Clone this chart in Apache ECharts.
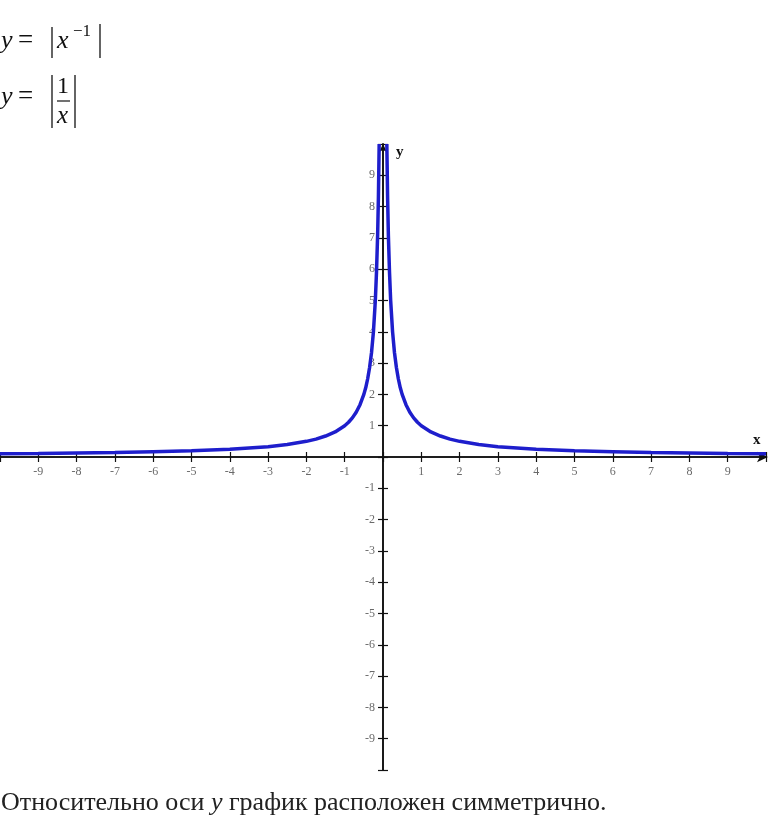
<!DOCTYPE html>
<html>
<head>
<meta charset="utf-8">
<script src="https://cdn.jsdelivr.net/npm/echarts@6/dist/echarts.min.js"></script>
<style>html,body{margin:0;padding:0;background:#fff}#c{width:768px;height:820px}</style>
</head>
<body>
<div id="c"></div>
<script>
// Values: y = |1/x|
const leftX  = [-10, -9, -8, -7, -6, -5, -4, -3.5, -3, -2.5, -2, -1.75, -1.5, -1.25, -1, -0.9, -0.8, -0.7, -0.6, -0.5, -0.45, -0.4, -0.35, -0.3, -0.25, -0.2, -0.17, -0.14, -0.12, -0.1];
const leftY  = [0.1, 0.11, 0.125, 0.14, 0.17, 0.2, 0.25, 0.29, 0.33, 0.4, 0.5, 0.57, 0.67, 0.8, 1, 1.11, 1.25, 1.43, 1.67, 2, 2.22, 2.5, 2.86, 3.33, 4, 5, 5.9, 7.1, 8.3, 10];
const rightX = [0.1, 0.12, 0.14, 0.17, 0.2, 0.25, 0.3, 0.35, 0.4, 0.45, 0.5, 0.6, 0.7, 0.8, 0.9, 1, 1.25, 1.5, 1.75, 2, 2.5, 3, 3.5, 4, 5, 6, 7, 8, 9, 10];
const rightY = [10, 8.3, 7.1, 5.9, 5, 4, 3.33, 2.86, 2.5, 2.22, 2, 1.67, 1.43, 1.25, 1.11, 1, 0.8, 0.67, 0.57, 0.5, 0.4, 0.33, 0.29, 0.25, 0.2, 0.17, 0.14, 0.125, 0.11, 0.1];
const xTickValues = [-9, -8, -7, -6, -5, -4, -3, -2, -1, 1, 2, 3, 4, 5, 6, 7, 8, 9];
const yTickValues = [-9, -8, -7, -6, -5, -4, -3, -2, -1, 1, 2, 3, 4, 5, 6, 7, 8, 9];
const footerText = 'Относительно оси y график расположен симметрично.';

const chart = echarts.init(document.getElementById('c'), null, {renderer: 'canvas'});
const serif = '"Liberation Serif", "DejaVu Serif", serif';
const lineColor = '#1e1ecc';
const pair = (xs, ys) => xs.map((x, i) => [x, ys[i]]);

const axisLineStyle = {color: '#111', width: 1.6};
function mkAxis(position, extra) {
  return Object.assign({
    type: 'value', min: -10, max: 10, interval: 1, position: position,
    splitLine: {show: false},
    axisLabel: {show: false},
    axisLine: {show: true, onZero: true, onZeroAxisIndex: 0, lineStyle: axisLineStyle},
    axisTick: {show: true, length: 5, lineStyle: {color: '#111', width: 1.2}}
  }, extra || {});
}
const labelStyle = {fontFamily: serif, fontSize: 12, color: '#444'};

chart.setOption({
  animation: false,
  backgroundColor: '#fff',
  grid: {left: 0, top: 144, width: 766, height: 626, containLabel: false, outerBoundsMode: 'none'},
  xAxis: [
    mkAxis('bottom', {axisLine: {show: true, onZero: true, onZeroAxisIndex: 0, lineStyle: axisLineStyle, symbol: ['none', 'arrow'], symbolSize: [8, 11], symbolOffset: [0, 2]}}),
    mkAxis('top')
  ],
  yAxis: [
    mkAxis('left', {axisLine: {show: true, onZero: true, onZeroAxisIndex: 0, lineStyle: axisLineStyle, symbol: ['none', 'arrow'], symbolSize: [6, 8]}}),
    mkAxis('right')
  ],
  series: [
    {type: 'line', data: pair(leftX, leftY), showSymbol: false, symbol: 'none', lineStyle: {color: lineColor, width: 3.5}, z: 3},
    {type: 'line', data: pair(rightX, rightY), showSymbol: false, symbol: 'none', lineStyle: {color: lineColor, width: 3.5}, z: 3},
    {type: 'scatter', data: xTickValues.map(v => [v, 0]), symbolSize: 0, silent: true,
      label: Object.assign({show: true, position: 'bottom', distance: 9, formatter: p => String(p.value[0])}, labelStyle)},
    {type: 'scatter', data: yTickValues.map(v => [0, v]), symbolSize: 0, silent: true,
      label: Object.assign({show: true, position: 'left', distance: 8, formatter: p => String(p.value[1])}, labelStyle)}
  ],
  graphic: [
    // line 1: y = |x^-1|
    {type: 'text', left: 1, top: 28, style: {text: 'y', font: 'italic 26px ' + serif, fill: '#111'}},
    {type: 'text', left: 18, top: 27, style: {text: '=', font: '27px ' + serif, fill: '#111'}},
    {type: 'line', shape: {x1: 52, y1: 27, x2: 52, y2: 58}, style: {stroke: '#111', lineWidth: 1.3}},
    {type: 'text', left: 57, top: 28, style: {text: 'x', font: 'italic 26px ' + serif, fill: '#111'}},
    {type: 'text', left: 73, top: 23, style: {text: '−1', font: '17px ' + serif, fill: '#111'}},
    {type: 'line', shape: {x1: 100, y1: 24, x2: 100, y2: 58}, style: {stroke: '#111', lineWidth: 1.3}},
    // line 2: y = |1/x|
    {type: 'text', left: 1, top: 84, style: {text: 'y', font: 'italic 26px ' + serif, fill: '#111'}},
    {type: 'text', left: 18, top: 83, style: {text: '=', font: '27px ' + serif, fill: '#111'}},
    {type: 'line', shape: {x1: 52, y1: 75, x2: 52, y2: 128}, style: {stroke: '#111', lineWidth: 1.3}},
    {type: 'text', left: 57, top: 75, style: {text: '1', font: '24px ' + serif, fill: '#111'}},
    {type: 'line', shape: {x1: 57, y1: 101, x2: 70, y2: 101}, style: {stroke: '#111', lineWidth: 1.2}},
    {type: 'text', left: 57, top: 104, style: {text: 'x', font: 'italic 25px ' + serif, fill: '#111'}},
    {type: 'line', shape: {x1: 75, y1: 75, x2: 75, y2: 128}, style: {stroke: '#111', lineWidth: 1.3}},
    // axis names
    {type: 'text', left: 753, top: 433, style: {text: 'x', font: 'bold 15px ' + serif, fill: '#111'}},
    {type: 'text', left: 396, top: 145, style: {text: 'y', font: 'bold 15px ' + serif, fill: '#111'}},
    // footer
    {type: 'text', left: 1, top: 790, style: {
      rich: {n: {font: '26px ' + serif, fill: '#222'}, i: {font: 'italic 26px ' + serif, fill: '#222'}},
      text: '{n|Относительно оси }{i|y}{n| график расположен симметрично.}'
    }}
  ]
});
</script>
</body>
</html>
